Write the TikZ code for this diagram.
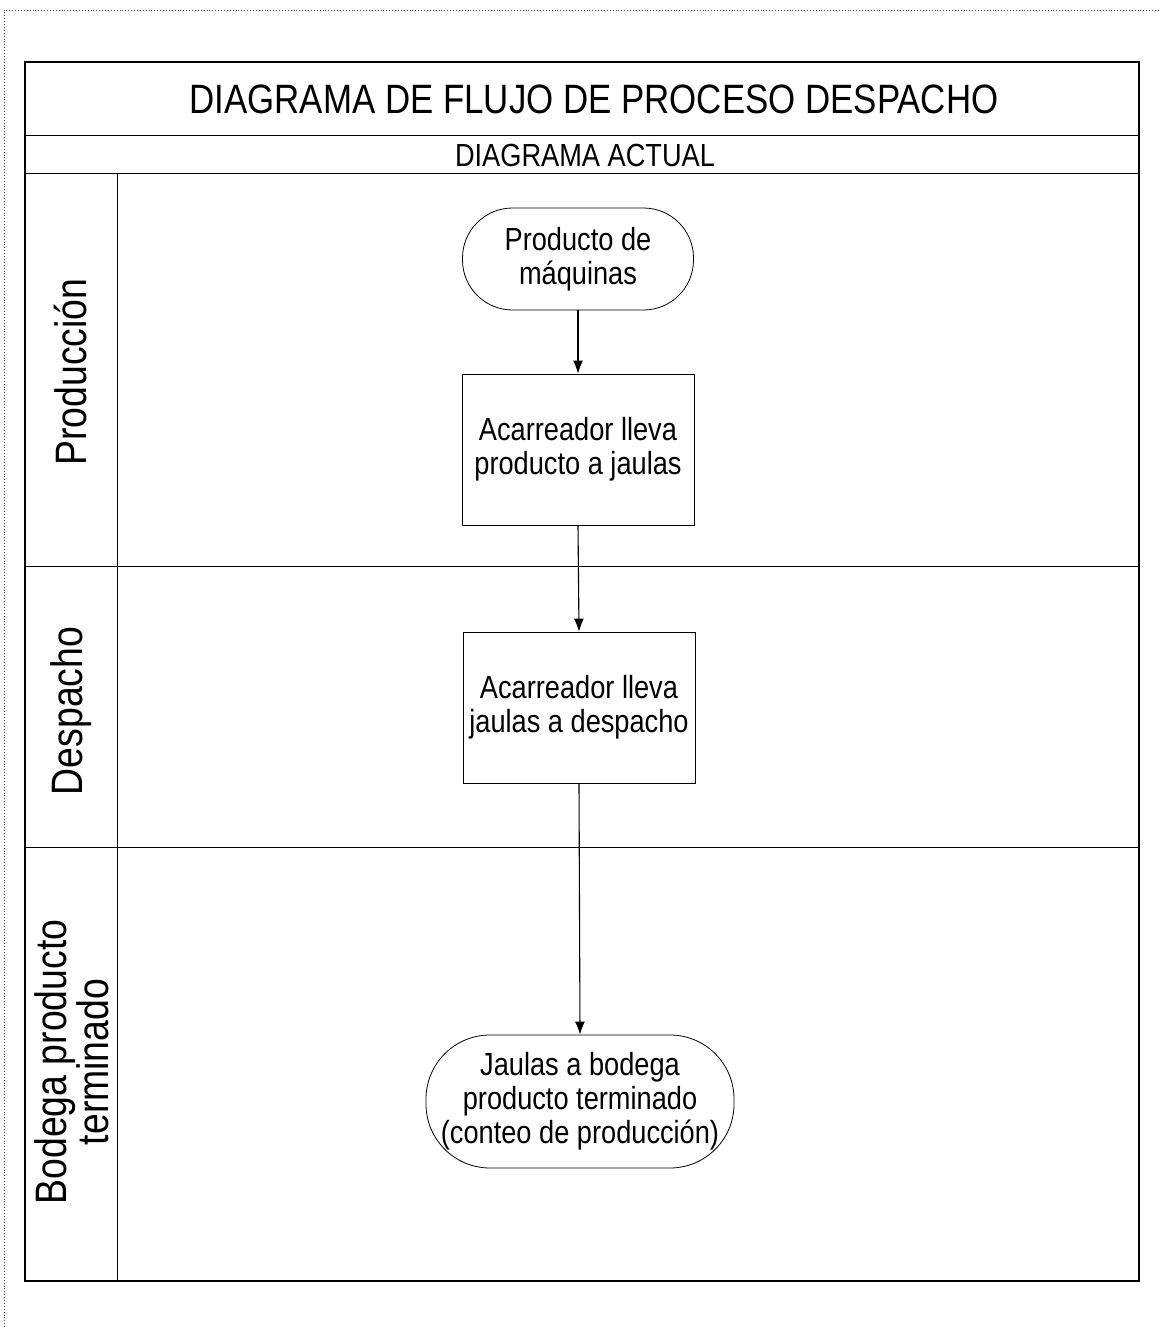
\documentclass[tikz,border=0pt]{standalone}
\usepackage{fontspec}
\setmainfont{Liberation Sans}[FakeStretch=0.85]
\usetikzlibrary{arrows.meta}
\begin{document}
\begin{tikzpicture}[x=1pt,y=-1pt,
  frameline/.style={line width=1.3pt},
  gridline/.style={line width=1pt},
  nodetext/.style={font=\fontsize{32}{34}\selectfont, align=center, inner sep=0pt},
  procbox/.style={nodetext, draw, line width=0.8pt, minimum width=232pt, minimum height=151pt},
  termbox/.style={nodetext, draw, line width=0.8pt},
  lanelabel/.style={font=\fontsize{44}{38}\selectfont, align=center, rotate=90, inner sep=0pt},
  flow/.style={line width=1.1pt, -{Latex[length=13pt,width=10pt]}}
]
\useasboundingbox (0,0) rectangle (1161,1327);
% dotted page border
\draw[dotted, line width=0.9pt, black!70] (4,1327) -- (4,10) -- (1161,10);
% frame
\draw[frameline] (25,62) rectangle (1139,1281);
\draw[gridline] (25,136) -- (1139,136);
\draw[gridline] (25,173) -- (1139,173);
\draw[gridline] (117,173) -- (117,1281);
\draw[gridline] (25,566) -- (1139,566);
\draw[gridline] (25,847) -- (1139,847);
% titles
\node[font=\fontsize{41}{44}\selectfont, inner sep=0pt] (title) at (594,99) {DIAGRAMA DE FLUJO DE PROCESO DESPACHO};
\node[font=\fontsize{32}{34}\selectfont, inner sep=0pt] (subtitle) at (585,155) {DIAGRAMA ACTUAL};
% lane labels
\node[lanelabel] (lane1) at (71,372) {Producción};
\node[lanelabel] (lane2) at (71,711) {Despacho};
\node[lanelabel] (lane3) at (72,1062) {Bodega producto\\terminado};
% flow nodes
\node[termbox, minimum width=231pt, minimum height=102pt, rounded corners=50pt] (t1) at (578,259) {Producto de\\máquinas};
\node[procbox] (p1) at (578,449.5) {Acarreador lleva\\producto a jaulas};
\node[procbox] (p2) at (579,707.5) {Acarreador lleva\\jaulas a despacho};
\node[termbox, minimum width=308pt, minimum height=133pt, rounded corners=64pt] (t2) at (580,1101.5) {Jaulas a bodega\\producto terminado\\(conteo de producción)};
% connectors
\draw[flow] (t1.south) -- (p1.north);
\draw[flow] (p1.south) -- (p2.north);
\draw[flow] (p2.south) -- (t2.north);
\end{tikzpicture}
\end{document}
